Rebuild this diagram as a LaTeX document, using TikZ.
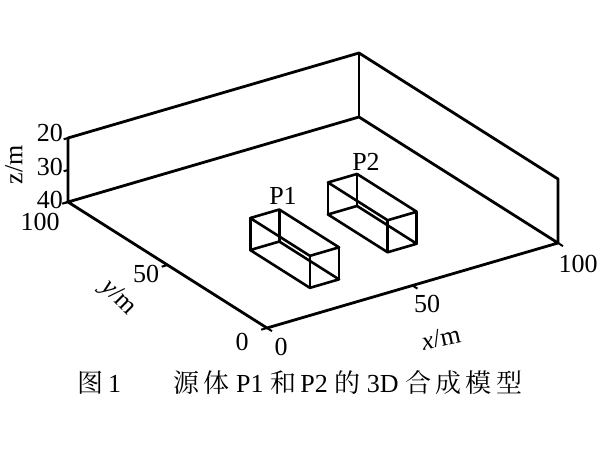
\documentclass[tikz,border=0pt]{standalone}
\usepackage{fontspec}
\setmainfont{Liberation Serif}
\newfontfamily\cjk{Noto Serif CJK SC}
\begin{document}
\begin{tikzpicture}[x=1pt,y=1pt,
  frame/.style={line width=2.8pt,line join=round},
  boxl/.style={line width=2.6pt,line join=round},
  lab/.style={font=\fontsize{26}{26}\selectfont,inner sep=0pt}]
\useasboundingbox (0,0) rectangle (600,450);
\begin{scope}[shift={(267pt,250pt)},x={(2.91pt,0.85pt)},y={(-1.99pt,1.26pt)},z={(0pt,-3.2pt)}]
 \coordinate (O) at (0,0,40);
 \coordinate (X) at (100,0,40);
 \coordinate (Y) at (0,100,40);
 \coordinate (XY) at (100,100,40);
 \coordinate (YT) at (0,100,20);
 \coordinate (XYT) at (100,100,20);
 \coordinate (XT) at (100,0,20);
 \draw[frame] (O) -- (X) -- (XY) -- (Y) -- cycle;
 \draw[frame] (Y) -- (YT) -- (XYT) -- (XT) -- (X);
 \draw[frame] (XYT) -- (XY);
 % ticks
 \foreach \z in {20,30,40} \draw[line width=2pt] (0,100,\z) -- (-1.5,100,\z);
 \foreach \y in {0,50,100} \draw[line width=2pt] (0,\y,40) -- (-2,\y,40);
 \foreach \x in {0,50,100} \draw[line width=2pt] (\x,0,40) -- (\x,-2.5,40);
 % boxes
 \foreach \xa/\xb/\ya/\yb/\nm in {25/35/15/45/P1,56.5/66.5/22/52/P2}{
  \draw[boxl] (\xa,\ya,40) -- (\xb,\ya,40) -- (\xb,\yb,40) -- (\xa,\yb,40) -- cycle;
  \draw[boxl] (\xa,\ya,30) -- (\xb,\ya,30) -- (\xb,\yb,30) -- (\xa,\yb,30) -- cycle;
  \draw[boxl] (\xa,\ya,40) -- (\xa,\ya,30) (\xb,\ya,40) -- (\xb,\ya,30)
              (\xb,\yb,40) -- (\xb,\yb,30) (\xa,\yb,40) -- (\xa,\yb,30);
 }
\end{scope}
\node[lab,anchor=east] (z20) at (63,317) {20};
\node[lab,anchor=east] (z30) at (63,283) {30};
\node[lab,anchor=east] (z40) at (63,250) {40};
\node[lab,rotate=90] (zl) at (14,285) {z/m};
\node[lab] (y100) at (40,228) {100};
\node[lab] (y50) at (146,176) {50};
\node[lab,rotate=-45] (yl) at (118,152) {\textit{y}/m};
\node[lab] (y0) at (242,108) {0};
\node[lab] (x0) at (281,103) {0};
\node[lab] (x50) at (427,146) {50};
\node[lab] (x100) at (578,186) {100};
\node[lab,rotate=12] (xl) at (441,112) {\textit{x}/m};
\node[lab] (p1) at (283,254) {P1};
\node[lab] (p2) at (366,288) {P2};
\node[inner sep=0pt,font=\fontsize{26}{26}\selectfont] (cap) at (300,67)
  {{\cjk 图}\,1\qquad{\cjk 源\,体} P1 {\cjk 和}\,P2 {\cjk 的} 3D {\cjk 合\,成\,模\,型}};
\end{tikzpicture}
\end{document}
